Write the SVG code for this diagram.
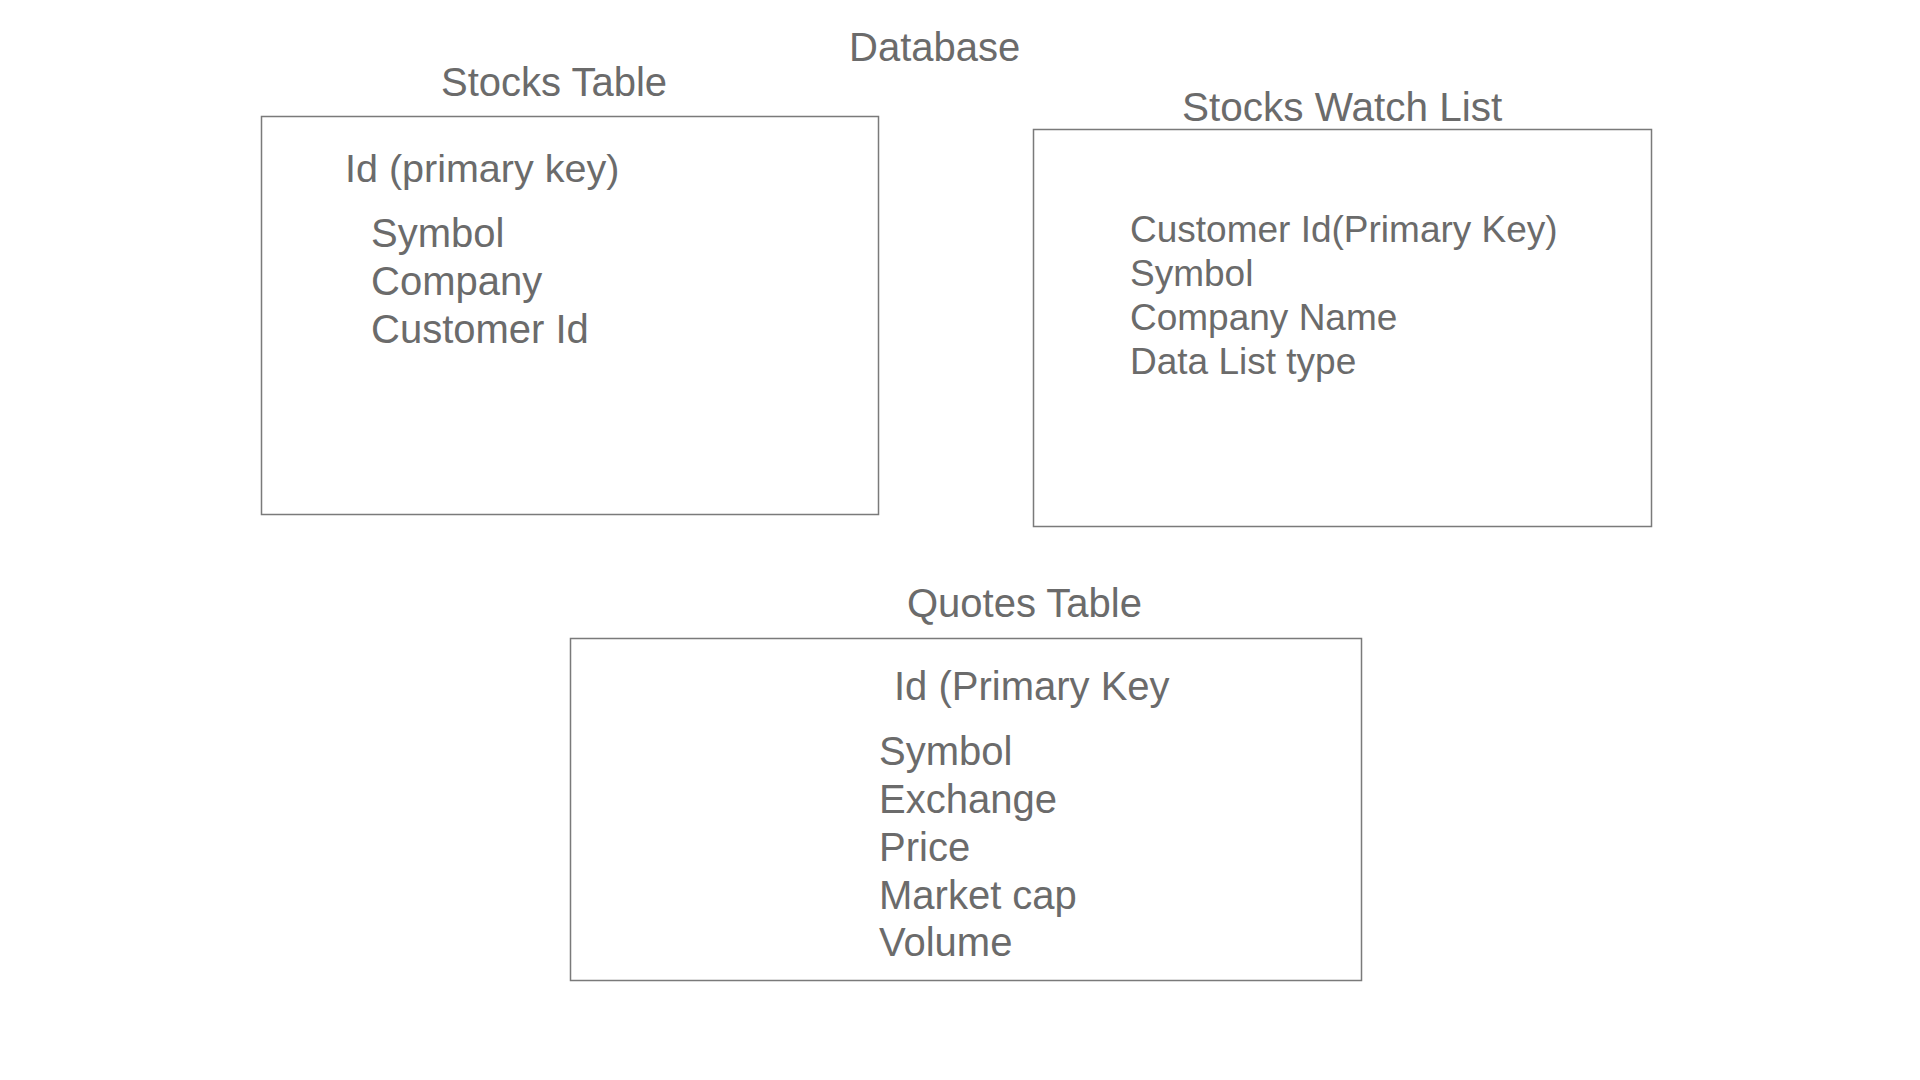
<svg xmlns="http://www.w3.org/2000/svg" width="1920" height="1080" viewBox="0 0 1920 1080">
<style>
.t{font-family:"Liberation Sans",Arial,sans-serif;fill:#6b6b6b;font-size:40px}
.w{font-size:37px}
.box{fill:#fff;stroke:#7a7a7a;stroke-width:1.5}
</style>
<rect width="1920" height="1080" fill="#fff"/>
<g id="title"><text class="t" x="849" y="61">Database</text></g>
<g id="stocks-table">
<text class="t" x="441" y="96">Stocks Table</text>
<rect class="box" x="261.5" y="116.5" width="617" height="398"/>
<text class="t" x="345" y="182" style="font-size:39.5px">Id (primary key)</text>
<text class="t" x="371" y="247">Symbol</text>
<text class="t" x="371" y="295">Company</text>
<text class="t" x="371" y="343">Customer Id</text>
</g>
<g id="stocks-watch-list">
<text class="t" x="1182" y="121" style="font-size:40.5px">Stocks Watch List</text>
<rect class="box" x="1033.5" y="129.5" width="618" height="397"/>
<text class="t w" x="1130" y="242">Customer Id(Primary Key)</text>
<text class="t w" x="1130" y="286">Symbol</text>
<text class="t w" x="1130" y="330">Company Name</text>
<text class="t w" x="1130" y="374">Data List type</text>
</g>
<g id="quotes-table">
<text class="t" x="907" y="617">Quotes Table</text>
<rect class="box" x="570.5" y="638.5" width="791" height="342"/>
<text class="t" x="894" y="700">Id (Primary Key</text>
<text class="t" x="879" y="765">Symbol</text>
<text class="t" x="879" y="813">Exchange</text>
<text class="t" x="879" y="861">Price</text>
<text class="t" x="879" y="909">Market cap</text>
<text class="t" x="879" y="956">Volume</text>
</g>
<g id="connectors"></g>
</svg>
